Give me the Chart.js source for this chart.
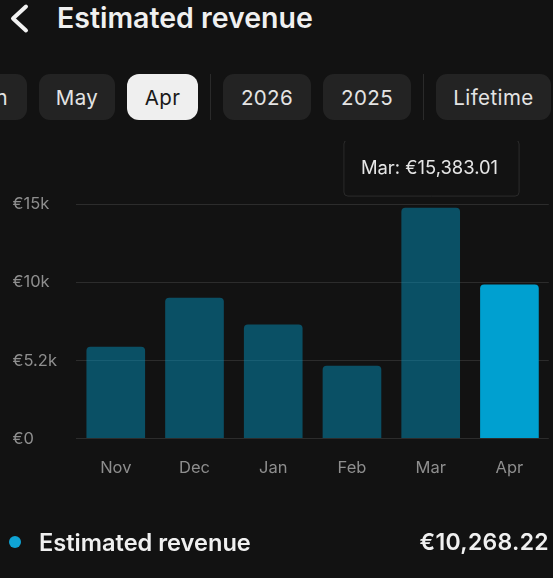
<!DOCTYPE html>
<html>
<head>
<meta charset="utf-8">
<script src="https://cdn.jsdelivr.net/npm/chart.js@4"></script>
<style>
html,body{margin:0;padding:0;background:#121212;overflow:hidden;width:553px;height:578px;font-family:Inter,sans-serif;}
#wrap{position:absolute;left:0;top:140px;width:553px;height:438px;}
.t{position:absolute;white-space:nowrap;line-height:1;}
#title{left:57px;top:4px;font-size:28.5px;font-weight:600;color:#f0f0f0;}
.pill{position:absolute;top:74px;height:46px;border-radius:11px;background:#232323;color:#e4e4e4;font-size:20.5px;font-weight:400;display:flex;align-items:center;justify-content:center;letter-spacing:.4px;}
.pill.on{background:#efefef;color:#1a1a1a;border-radius:12px;}
.div{position:absolute;top:74px;height:46px;width:1px;background:#2a2a2a;}
#dot{position:absolute;left:9px;top:536px;width:12px;height:12px;border-radius:50%;background:#0fa3d4;}
#legend{left:39px;top:531px;font-size:23.6px;font-weight:600;color:#f0f0f0;}
#total{right:4px;top:531px;font-size:23px;font-weight:600;color:#f0f0f0;letter-spacing:.3px;}
#cover{position:absolute;left:340px;top:139px;width:184px;height:2px;background:#121212;}
</style>
</head>
<body>
<svg style="position:absolute;left:0;top:0" width="50" height="40"><polyline points="26,6.5 13,18.5 26,30.5" fill="none" stroke="#f2f2f2" stroke-width="4" stroke-linecap="round" stroke-linejoin="round"/></svg>
<div class="t" id="title">Estimated revenue</div>
<div class="pill" style="left:-40px;width:67px;justify-content:flex-end;padding-right:0"><span style="margin-right:19px">n</span></div>
<div class="pill" style="left:39px;width:76px">May</div>
<div class="pill on" style="left:127px;width:71px">Apr</div>
<div class="div" style="left:210px"></div>
<div class="pill" style="left:223px;width:88px">2026</div>
<div class="pill" style="left:323px;width:88px">2025</div>
<div class="div" style="left:423px"></div>
<div class="pill" style="left:436px;width:115px">Lifetime</div>
<div id="wrap"><canvas id="c" width="553" height="438"></canvas></div>
<div id="cover"></div>
<div id="dot"></div>
<div class="t" id="legend">Estimated revenue</div>
<div class="t" id="total">€10,268.22</div>
<script>
const categories = ["Nov","Dec","Jan","Feb","Mar","Apr"];
const revenue = [6120,9380,7600,4850,15383.01,10268.22];
const tickValues = [0,5200,10400,15600];
const tickLabels = ["€0","€5.2k","€10k","€15k"];
const hoverIndex = 4;
const dimColor = "rgba(0,160,208,0.44)";
const fullColor = "#00a0d0";

Chart.Tooltip.positioners.pinned = function(){
  return {x: 431.5, y: 56};
};
const chart = new Chart(document.getElementById("c"),{
  type:"bar",
  data:{labels:categories,datasets:[{
    data:revenue,
    backgroundColor:categories.map((_,i)=>i===categories.length-1?fullColor:dimColor),
    hoverBackgroundColor:categories.map((_,i)=>i===categories.length-1?fullColor:dimColor),
    borderWidth:0,
    borderRadius:{topLeft:4,topRight:4,bottomLeft:0,bottomRight:0},
    borderSkipped:"bottom",
    barPercentage:0.745,
    categoryPercentage:1
  }]},
  options:{
    responsive:false,
    animation:false,
    layout:{padding:{left:12.5,right:4.2,top:64.5,bottom:0}},
    events:[],
    plugins:{
      legend:{display:false},
      tooltip:{
        enabled:true,
        position:"pinned",
        xAlign:"center",
        yAlign:"bottom",
        caretSize:0,
        caretPadding:0,
        displayColors:false,
        backgroundColor:"#121212",
        borderColor:"#2b2b2b",
        borderWidth:1,
        cornerRadius:4,
        padding:{left:17,right:21,top:17,bottom:17},
        bodyColor:"#e6e6e6",
        bodyFont:{family:"Inter",size:18.4,weight:"400"},
        callbacks:{
          title:()=>[],
          label:(ctx)=>ctx.label+": €"+ctx.parsed.y.toLocaleString("en-US",{minimumFractionDigits:2,maximumFractionDigits:2})
        }
      }
    },
    scales:{
      x:{
        grid:{display:false},
        border:{display:false},
        ticks:{color:"#8e8e8e",font:{family:"Inter",size:16.5},padding:12,maxRotation:0},
        afterFit(s){s.height=139.4;}
      },
      y:{
        min:0,max:15600,
        afterBuildTicks(s){s.ticks=tickValues.map(v=>({value:v}));},
        grid:{color:"#2c2c2c",lineWidth:1,drawTicks:false},
        border:{display:false},
        ticks:{color:"#8e8e8e",font:{family:"Inter",size:16.5},crossAlign:"far",padding:0,
          callback:(v)=>tickLabels[tickValues.indexOf(v)]},
        afterFit(s){s.width=63.9;}
      }
    }
  }
});
chart.tooltip.setActiveElements([{datasetIndex:0,index:hoverIndex}],{x:0,y:0});
chart.update();
</script>
</body>
</html>
